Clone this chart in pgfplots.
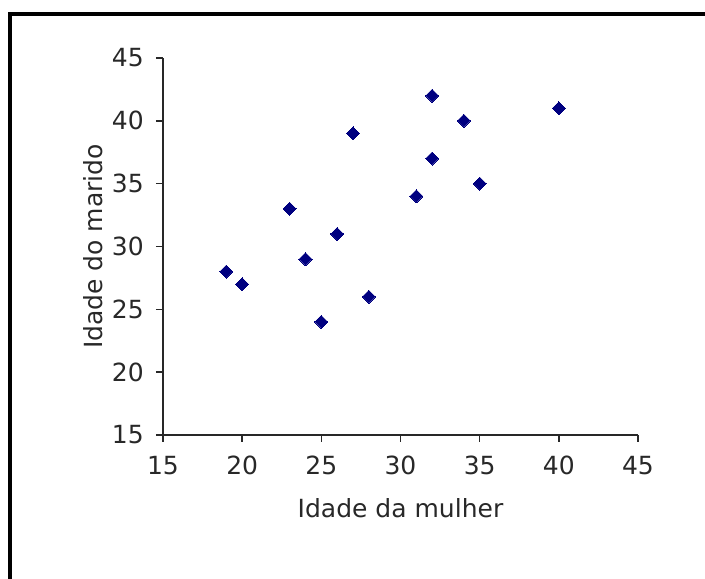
\documentclass[border=0pt]{standalone}
\usepackage{fontspec}
\setmainfont{DejaVu Sans}
\usepackage{pgfplots}
\pgfplotsset{compat=1.18}

\definecolor{marker}{RGB}{0,0,128}
\definecolor{txt}{RGB}{40,40,40}

\begin{document}
\begin{tikzpicture}
    % page = 705 x 579 bp, so one reference pixel is one bp
    \useasboundingbox (0,0) rectangle (705bp,579bp);
    % frame: top and left edges only
    \draw[line width=4bp, line cap=rect] (10bp,0) -- (10bp,565bp) -- (705bp,565bp);

    \begin{axis}[
            at={(163bp,144bp)},
            anchor=south west,
            scale only axis,
            width=475bp,
            height=377bp,
            xmin=15, xmax=45,
            ymin=15, ymax=45,
            xtick={15,20,...,45},
            ytick={15,20,...,45},
            axis x line*=bottom,
            axis y line*=left,
            axis line style={line width=1.5bp, color=txt, -},
            tick style={line width=1.5bp, color=txt},
            tick align=outside,
            major tick length=7bp,
            /pgf/number format/assume math mode=true,
            tick label style={font=\fontsize{25bp}{29bp}\selectfont, text=txt, inner sep=0pt},
            xticklabel style={anchor=north, yshift=-14bp},
            yticklabel style={anchor=east, xshift=-12bp},
            label style={font=\fontsize{25bp}{29bp}\selectfont, text=txt, inner sep=0pt},
            xlabel={Idade da mulher},
            ylabel={Idade do marido},
            xlabel style={at={(axis description cs:0.5,-0.220)}, anchor=base},
            ylabel style={at={(axis description cs:-0.128,0.5)}, anchor=base, rotate=0},
            clip=false,
        ]
        \addplot[only marks, mark=square*, mark size=4.6bp,
                 mark options={rotate=45, fill=marker, draw=marker, line width=0pt}]
            coordinates {
                (19,28)
                (20,27)
                (23,33)
                (24,29)
                (25,24)
                (26,31)
                (27,39)
                (28,26)
                (31,34)
                (32,42)
                (32,37)
                (34,40)
                (35,35)
                (40,41)
            };
    \end{axis}
\end{tikzpicture}
\end{document}
